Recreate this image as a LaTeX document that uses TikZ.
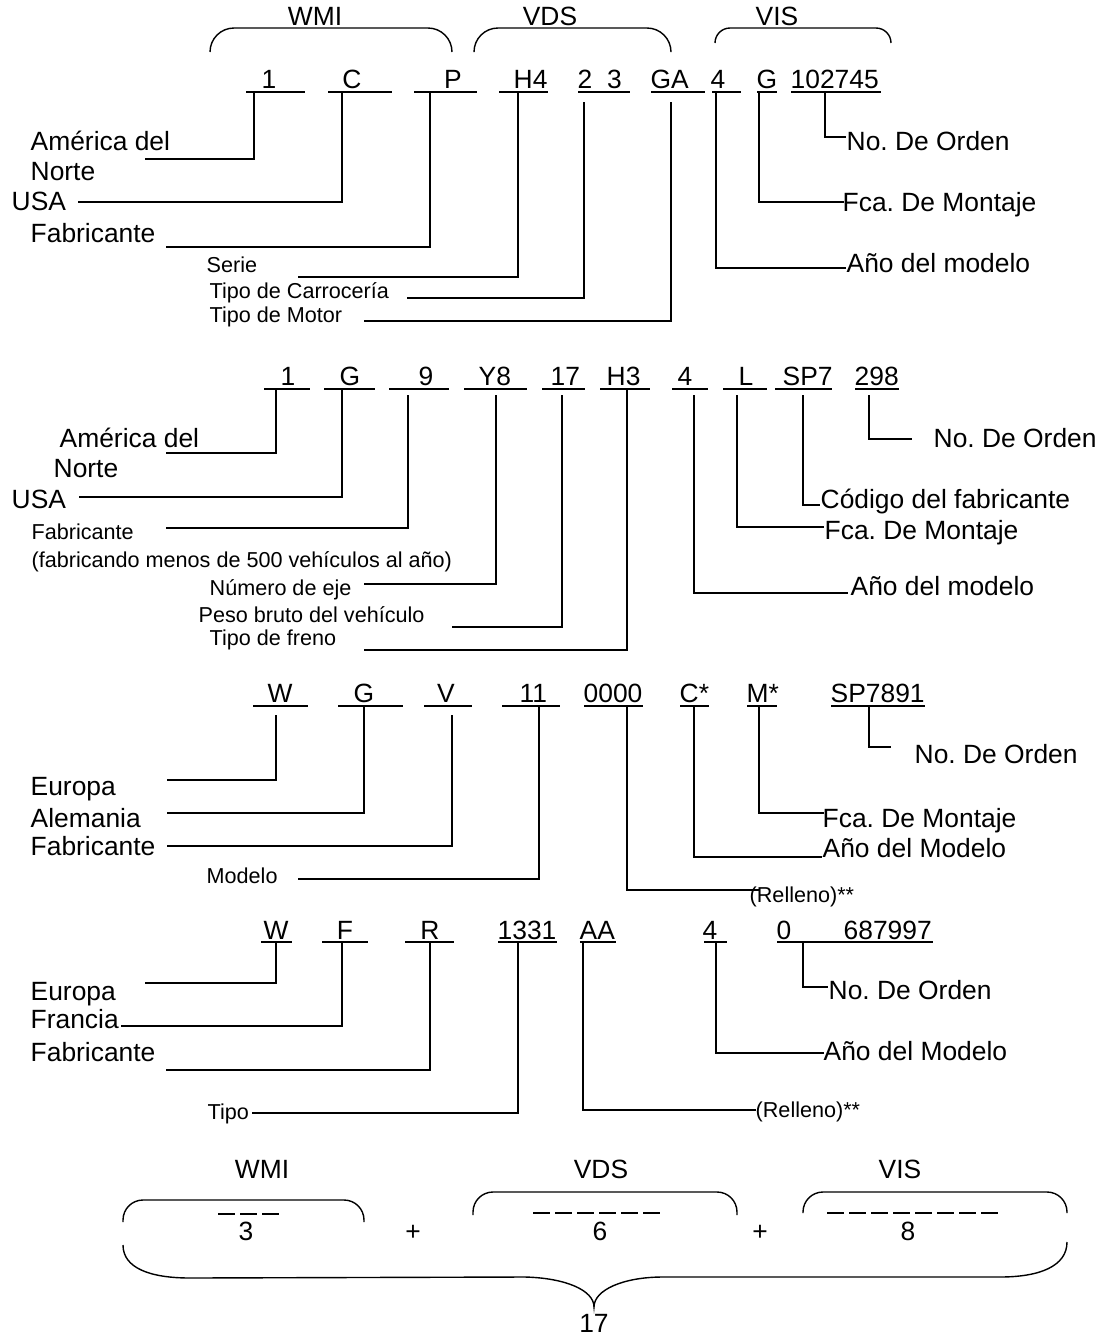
\documentclass[tikz,border=0pt]{standalone}
\usepackage{fontspec}
\setmainfont{Liberation Sans}
\newcommand\ulin[4]{\coordinate (#1-l) at (#2,#4); \coordinate (#1-r) at (#3,#4); \draw (#1-l) -- (#1-r);}
\newcommand\ldr[5]{\coordinate (#1-a) at (#2,#3); \coordinate (#1-b) at (#5,#4); \draw (#1-a) |- (#1-b);}
\newcommand\tbr[6]{\coordinate (#1-l) at (#2,#4); \coordinate (#1-r) at (#3,#4); \coordinate (#1-m) at ({(#2+#3)/2},#5); \draw[rounded corners=#6pt] (#1-l) |- (#1-m) -| (#1-r);}
\begin{document}
\frenchspacing
\begin{tikzpicture}[x=0.5pt,y=-0.5pt,line width=0.7pt,
  lab/.style={font=\fontsize{13.2}{15}\selectfont,inner sep=0pt,anchor=base west},
  sml/.style={font=\fontsize{10.8}{13}\selectfont,inner sep=0pt,anchor=base west},
  cod/.style={font=\fontsize{13.2}{15}\selectfont,inner sep=0pt,anchor=base west},
  codc/.style={font=\fontsize{13.2}{15}\selectfont,inner sep=0pt,anchor=base},
  dsh/.style={dash pattern=on 8.5pt off 2.5pt}]
\useasboundingbox (0,0) rectangle (1104,1335);

% ---------------- Section 1 ----------------
\node[codc] (t1) at (315,25) {WMI};
\node[codc] (t2) at (550,25) {VDS};
\node[codc] (t3) at (777,25) {VIS};
\tbr{br1}{210}{452}{52}{28}{12}
\tbr{br2}{474}{671}{50}{28}{12}
\tbr{br3}{715}{891}{43}{28}{7.5}

\node[codc] (k1) at (269,88) {1};
\node[codc] (k2) at (352,88) {C};
\node[codc] (k3) at (453,88) {P};
\node[cod] (k4) at (513,88) {H4};
\node[cod] (k5) at (577,88) {2~~3};
\node[cod] (k6) at (650,88) {GA};
\node[codc] (k7) at (718,88) {4};
\node[codc] (k8) at (767,88) {G};
\node[cod] (k9) at (790,88) {102745};
\ulin{u1}{246}{305}{92} \ulin{u2}{328}{392}{92} \ulin{u3}{414}{477}{92}
\ulin{u4}{499}{548}{92} \ulin{u5}{578}{630}{92} \ulin{u6}{651}{705}{92}
\ulin{u7}{712}{741}{92} \ulin{u8}{757}{777}{92} \ulin{u9}{791}{881}{92}

\node[lab] (l1) at (30,150) {América del};
\node[lab] (l1b) at (30,180) {Norte};
\node[lab] (l2) at (11,210) {USA};
\node[lab] (l3) at (30,242) {Fabricante};
\node[sml] (l4) at (206,272) {Serie};
\node[sml] (l5) at (209,298) {Tipo de Carrocería};
\node[sml] (l6) at (209,322) {Tipo de Motor};
\node[lab] (l7) at (846,272) {Año del modelo};
\node[lab] (l8) at (842,211) {Fca. De Montaje};
\node[lab] (l9) at (846,150) {No. De Orden};
\ldr{a1}{254}{92}{159}{145}
\ldr{a2}{342}{92}{202}{78}
\ldr{a3}{430}{92}{247}{166}
\ldr{a4}{518}{92}{277}{298}
\ldr{a5}{584}{102}{298}{407}
\ldr{a6}{671}{102}{321}{364}
\ldr{a7}{716}{92}{268}{846}
\ldr{a8}{759}{92}{202}{844}
\ldr{a9}{825}{92}{137}{846}

% ---------------- Section 2 ----------------
\node[codc] (m1) at (288,385) {1};
\node[codc] (m2) at (350,385) {G};
\node[codc] (m3) at (426,385) {9};
\node[cod] (m4) at (478,385) {Y8};
\node[cod] (m5) at (550,385) {17};
\node[cod] (m6) at (606,385) {H3};
\node[codc] (m7) at (685,385) {4};
\node[codc] (m8) at (746,385) {L};
\node[cod] (m9) at (782,385) {SP7};
\node[cod] (m10) at (854,385) {298};
\ulin{v1}{264}{310}{389} \ulin{v2}{324}{375}{389} \ulin{v3}{389}{449}{389}
\ulin{v4}{464}{527}{389} \ulin{v5}{542}{585}{389} \ulin{v6}{600}{650}{389}
\ulin{v7}{672}{708}{389} \ulin{v8}{723}{767}{389} \ulin{v9}{775}{832}{389}
\ulin{v10}{855}{899}{389}

\node[lab] (n1) at (59,447) {América del};
\node[lab] (n1b) at (53,477) {Norte};
\node[lab] (n2) at (11,508) {USA};
\node[sml] (n3) at (31,539) {Fabricante};
\node[sml] (n3b) at (31,567) {(fabricando menos de 500 vehículos al año)};
\node[sml] (n4) at (209,595) {Número de eje};
\node[sml] (n5) at (198,622) {Peso bruto del vehículo};
\node[sml] (n6) at (209,645) {Tipo de freno};
\node[lab] (n7) at (850,595) {Año del modelo};
\node[lab] (n8) at (824,539) {Fca. De Montaje};
\node[lab] (n9) at (820,508) {Código del fabricante};
\node[lab] (n10) at (933,447) {No. De Orden};
\ldr{b1}{276}{389}{453}{166}
\ldr{b2}{342}{389}{497}{79}
\ldr{b3}{408}{395}{528}{166}
\ldr{b4}{496}{395}{584}{364}
\ldr{b5}{562}{395}{627}{452}
\ldr{b6}{627}{389}{650}{364}
\ldr{b7}{694}{395}{593}{848}
\ldr{b8}{737}{395}{527}{824}
\ldr{b9}{803}{395}{505}{820}
\ldr{b10}{869}{395}{439}{912}

% ---------------- Section 3 ----------------
\node[codc] (p1) at (280,702) {W};
\node[codc] (p2) at (364,702) {G};
\node[codc] (p3) at (446,702) {V};
\node[cod] (p4) at (519,702) {11};
\node[cod] (p5) at (583,702) {0000};
\node[cod] (p6) at (679,702) {C*};
\node[cod] (p7) at (746,702) {M*};
\node[cod] (p8) at (830,702) {SP7891};
\ulin{w1}{253}{308}{706} \ulin{w2}{338}{403}{706} \ulin{w3}{424}{472}{706}
\ulin{w4}{502}{560}{706} \ulin{w5}{584}{643}{706} \ulin{w6}{680}{709}{706}
\ulin{w7}{747}{777}{706} \ulin{w8}{831}{925}{706}

\node[lab] (q1) at (30,795) {Europa};
\node[lab] (q2) at (30,827) {Alemania};
\node[lab] (q3) at (30,855) {Fabricante};
\node[sml] (q4) at (206,883) {Modelo};
\node[sml] (q5) at (749,902) {(Relleno)**};
\node[lab] (q6) at (822,857) {Año del Modelo};
\node[lab] (q7) at (822,827) {Fca. De Montaje};
\node[lab] (q8) at (914,763) {No. De Orden};
\ldr{c1}{276}{715}{780}{167}
\ldr{c2}{364}{706}{813}{167}
\ldr{c3}{452}{715}{846}{167}
\ldr{c4}{539}{706}{879}{298}
\ldr{c5}{627}{706}{890}{759}
\ldr{c6}{694}{706}{857}{822}
\ldr{c7}{759}{706}{813}{824}
\ldr{c8}{869}{706}{747}{891}

% ---------------- Section 4 ----------------
\node[codc] (r1) at (276,939) {W};
\node[codc] (r2) at (345,939) {F};
\node[codc] (r3) at (430,939) {R};
\node[cod] (r4) at (497,939) {1331};
\node[cod] (r5) at (579,939) {AA};
\node[codc] (r6) at (710,939) {4};
\node[cod] (r7) at (776,939) {0};
\node[cod] (r8) at (843,939) {687997};
\ulin{x1}{261}{292}{942} \ulin{x2}{322}{368}{942} \ulin{x3}{405}{454}{942}
\ulin{x4}{498}{557}{942} \ulin{x5}{580}{616}{942} \ulin{x6}{704}{727}{942}
\ulin{x7}{777}{933}{942}

\node[lab] (s1) at (30,1000) {Europa};
\node[lab] (s2) at (30,1028) {Francia};
\node[lab] (s3) at (30,1061) {Fabricante};
\node[sml] (s4) at (207,1119) {Tipo};
\node[sml] (s5) at (755,1117) {(Relleno)**};
\node[lab] (s6) at (823,1060) {Año del Modelo};
\node[lab] (s7) at (828,999) {No. De Orden};
\ldr{d1}{276}{942}{983}{145}
\ldr{d2}{342}{942}{1026}{121}
\ldr{d3}{430}{942}{1070}{166}
\ldr{d4}{518}{942}{1113}{252}
\ldr{d5}{583}{942}{1110}{756}
\ldr{d6}{716}{942}{1053}{824}
\ldr{d7}{803}{942}{987}{828}

% ---------------- Section 5 ----------------
\node[codc] (z1) at (262,1178) {WMI};
\node[codc] (z2) at (601,1178) {VDS};
\node[codc] (z3) at (900,1178) {VIS};
\tbr{bb1}{123}{364}{1222}{1200}{10}
\tbr{bb2}{473}{737}{1215}{1192}{10}
\tbr{bb3}{803}{1067}{1213}{1192}{10}
\coordinate (e1l) at (218,1214); \coordinate (e1r) at (279,1214);
\coordinate (e2l) at (533,1213); \coordinate (e2r) at (660,1213);
\coordinate (e3l) at (827,1213); \coordinate (e3r) at (998,1213);
\draw[dsh] (e1l) -- (e1r);
\draw[dsh] (e2l) -- (e2r);
\draw[dsh] (e3l) -- (e3r);
\node[codc] (y1) at (246,1240) {3};
\node[codc] (y2) at (600,1240) {6};
\node[codc] (y3) at (908,1240) {8};
\node[codc] (pl1) at (413,1240) {+};
\node[codc] (pl2) at (760,1240) {+};
\coordinate (g1) at (123,1245);
\coordinate (g2) at (190,1278);
\coordinate (g3) at (525,1277);
\coordinate (g4) at (594,1307);
\coordinate (g5) at (663,1277);
\coordinate (g6) at (1000,1277);
\coordinate (g7) at (1067,1242);
\draw (g1) .. controls (123,1268) and (150,1278) .. (g2) -- (g3)
  .. controls (565,1278) and (594,1290) .. (g4)
  .. controls (594,1290) and (623,1277) .. (g5) -- (g6)
  .. controls (1040,1277) and (1067,1266) .. (g7);
\node[codc] (tot) at (594,1332) {17};
\end{tikzpicture}
\end{document}
